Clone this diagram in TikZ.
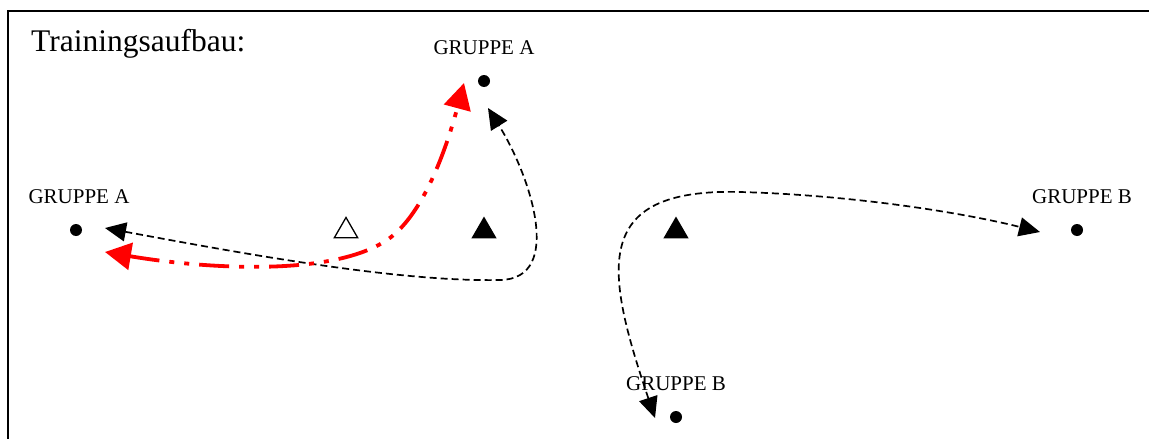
\documentclass[tikz,border=0pt]{standalone}
\usepackage{fontspec}
\setmainfont{Liberation Serif}
\usetikzlibrary{arrows.meta,shapes.geometric}
\definecolor{runred}{RGB}{255,0,0}
\begin{document}
\begin{tikzpicture}[x=1pt,y=-1pt,
  frame/.style={line width=2pt},
  playerdot/.style={circle,fill=black,inner sep=0pt,minimum size=12pt},
  cone/.style={regular polygon,regular polygon sides=3,inner sep=0pt,outer sep=0pt,minimum size=29pt},
  conefull/.style={cone,fill=black},
  coneopen/.style={cone,draw=black,line width=1.3pt,minimum size=27pt},
  grouplabel/.style={font=\fontsize{21}{24}\selectfont,inner sep=0pt,anchor=base},
  runblack/.style={line width=1.7pt,dash pattern=on 7pt off 4pt,
    {Triangle[length=21pt,width=19pt]}-{Triangle[length=21pt,width=19pt]}},
  runred/.style={draw=runred,line width=3.8pt,
    dash pattern=on 30pt off 10pt on 5pt off 10pt on 5pt off 10pt,
    {Triangle[length=26pt,width=27pt]}-{Triangle[length=26pt,width=27pt]}}]
\useasboundingbox (0,0) rectangle (1149,439);

% frame (left and top edges)
\draw[frame] (7.5,439) -- (7.5,10.5) -- (1149,10.5);

% title
\node[font=\fontsize{31.5}{36}\selectfont,inner sep=0pt,anchor=base west] (title) at (31,51) {Trainingsaufbau:};

% group labels
\node[grouplabel] (labA1) at (484,54) {GRUPPE A};
\node[grouplabel] (labA2) at (79,203) {GRUPPE A};
\node[grouplabel] (labB1) at (1082,203) {GRUPPE B};
\node[grouplabel] (labB2) at (676,390) {GRUPPE B};

% player positions
\node[playerdot] (dotA1) at (484,81) {};
\node[playerdot] (dotA2) at (76,230) {};
\node[playerdot] (dotB1) at (1077,230) {};
\node[playerdot] (dotB2) at (676,417) {};

% cones
\node[coneopen] (cone1) at (346,231) {};
\node[conefull] (cone2) at (484,231) {};
\node[conefull] (cone3) at (676,231) {};

% arrow end points
\coordinate (tipR1) at (464,83);
\coordinate (tipR2) at (105,252);
\coordinate (tipA1) at (488,108);
\coordinate (tipA2) at (105,228);
\coordinate (tipB1) at (1040,232);
\coordinate (tipB2) at (655,418);

% running paths
\draw[runblack] (tipA2) .. controls (250,255) and (400,282) .. (500,280)
  .. controls (565,279) and (530,175) .. (tipA1);
\draw[runred] (tipR2) .. controls (200,268) and (330,278) .. (387,240)
  .. controls (427,213) and (450,135) .. (tipR1);
\draw[runblack] (tipB2) .. controls (605,270) and (590,188) .. (740,192)
  .. controls (850,195) and (960,212) .. (tipB1);
\end{tikzpicture}
\end{document}
